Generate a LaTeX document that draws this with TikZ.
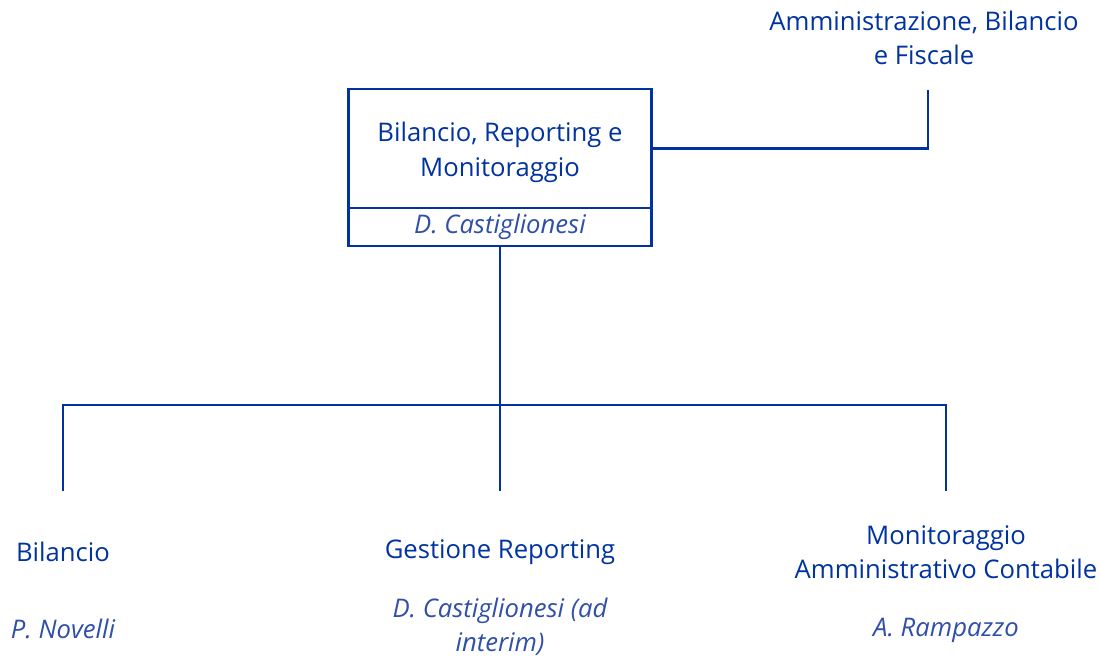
\documentclass[tikz,border=0pt]{standalone}
\usepackage{fontspec}
\setmainfont{Open Sans}
\definecolor{orgBlue}{HTML}{0033A0}
\definecolor{nameBlue}{HTML}{2F4FA8}
\usepackage{tikz}
\usetikzlibrary{positioning}

\begin{document}
\begin{tikzpicture}[
    x=0.02cm, y=-0.02cm,
    head/.style={align=center, text=orgBlue, font=\fontsize{14.6}{19.4}\selectfont},
    unitbox/.style={head, draw=orgBlue, line width=1.6pt, minimum width=6.06cm, minimum height=2.38cm,
                    inner sep=0pt, outer sep=0pt},
    namebox/.style={draw=orgBlue, line width=1.6pt, minimum width=6.06cm, minimum height=0.76cm, inner sep=0pt,
                    outer sep=0pt, text=nameBlue, font=\fontsize{14.6}{19.4}\selectfont\itshape},
    child/.style={head, anchor=north, minimum height=2.44cm, inner sep=0pt},
    person/.style={align=center, inner sep=0pt, text=nameBlue, font=\fontsize{14.6}{19.4}\selectfont\itshape},
    link/.style={draw=orgBlue, line width=1.6pt}
  ]
    \useasboundingbox (0,0) rectangle (1101,658);
    % top unit and parent
    \node[unitbox] (brm) at (500,148.5) {\rule{0pt}{15.5pt}Bilancio, Reporting e\\Monitoraggio};
    \node[namebox, below=0pt of brm] (brmname) {D. Castiglionesi};
    \node[head] (abf) at (924,38) {Amministrazione, Bilancio\\e Fiscale};
    \coordinate (abffoot) at (928,90);
    \draw[link] (brm.east) -| (abffoot);
    % offices
    \node[child] (bil) at (63,491) {Bilancio};
    \node[child] (gest) at (500,491) {Gestione Reporting};
    \node[child] (mon) at (946,491) {Monitoraggio\\Amministrativo Contabile};
    \node[person] (bilname) at (63,629) {P. Novelli};
    \node[person] (gestname) at (500,627) {D. Castiglionesi (ad\\interim)};
    \node[person] (monname) at (946,630) {A. Rampazzo};
    \draw[link] (brmname.south) -- (gest.north);
    \draw[link] (bil.north) -- ++(0,-86) -| (mon.north);
\end{tikzpicture}
\end{document}
